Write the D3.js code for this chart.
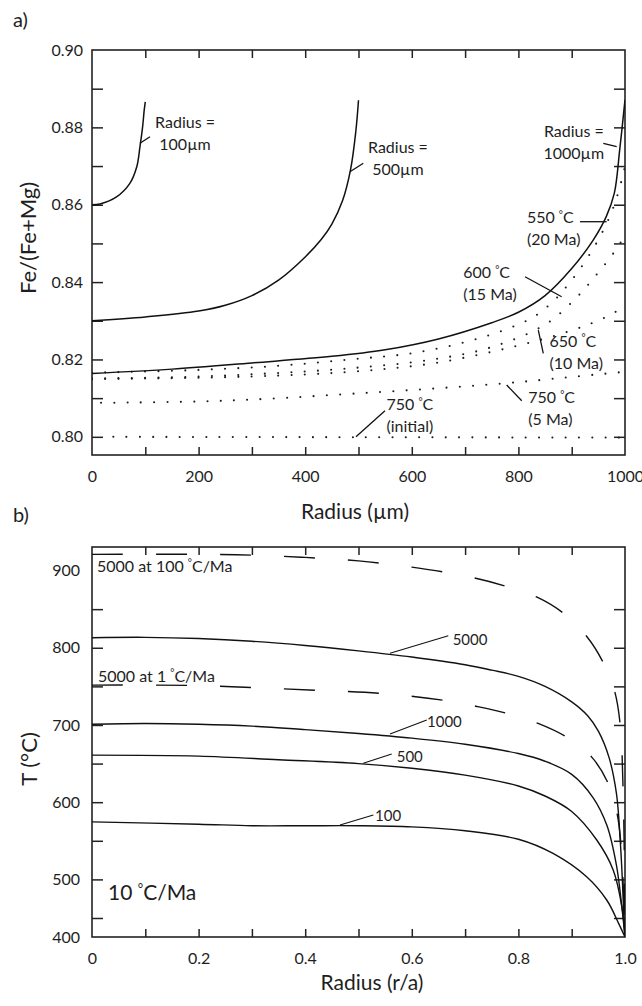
<!DOCTYPE html>
<html>
<head>
<meta charset="utf-8">
<script src="https://cdn.jsdelivr.net/npm/d3@7"></script>
<style>
  body { margin: 0; background: #fff; }
  svg { font-family: Lato, "Noto Sans", sans-serif; }
  text { fill: #1e1e1e; }
</style>
</head>
<body>
<script>
// ---------- panel a) Fe/(Fe+Mg) against radius (um) ----------
var r100 = [0, 15, 46, 71, 84, 90, 95, 98, 100];
var fe100 = [0.8600, 0.8602, 0.8620, 0.8655, 0.8698, 0.8750, 0.8802, 0.8845, 0.8866];

var r500 = [0, 100, 200, 250, 300, 350, 400, 430, 450, 470, 485, 495, 500];
var fe500 = [0.8300, 0.8310, 0.8325, 0.8340, 0.8365, 0.8405, 0.8465, 0.8510, 0.8550, 0.8610, 0.8690, 0.8790, 0.8870];

var r1000 = [0, 150, 300, 450, 550, 650, 750, 800, 850, 900, 940, 965, 980, 990, 1000];
var fe1000 = [0.8164, 0.8175, 0.8191, 0.8208, 0.8225, 0.8253, 0.8295, 0.8322, 0.8365, 0.8435, 0.8508, 0.8570, 0.8630, 0.8741, 0.8871];

// dotted profiles (550, 600, 650, 750 5 Ma, 750 initial)
var r550 = [0, 180, 343, 484, 609, 734, 822, 859, 884, 916, 944, 965, 980, 994, 1000];
var fe550 = [0.8166, 0.8172, 0.8183, 0.8200, 0.8218, 0.8258, 0.8305, 0.8342, 0.8378, 0.8435, 0.8495, 0.8550, 0.8600, 0.8665, 0.8700];
var r600 = [0, 180, 333, 483, 640, 750, 850, 909, 947, 978, 1000];
var fe600 = [0.8151, 0.8155, 0.8164, 0.8177, 0.8200, 0.8232, 0.8290, 0.8360, 0.8420, 0.8474, 0.8520];
var r650 = [0, 300, 484, 640, 797, 900, 965, 1000];
var fe650 = [0.8149, 0.8156, 0.8168, 0.8190, 0.8235, 0.8275, 0.8310, 0.8338];
var r750 = [17, 243, 496, 772, 900, 1000];
var fe750 = [0.8088, 0.8093, 0.8112, 0.8138, 0.8155, 0.8168];
var rInit = [40, 500, 1000];
var feInit = [0.8000, 0.7999, 0.7998];

var feTicks = [0.80, 0.81, 0.82, 0.83, 0.84, 0.85, 0.86, 0.87, 0.88, 0.89];
var feLabels = [0.80, 0.82, 0.84, 0.86, 0.88, 0.90];
var rTicks = [100, 200, 300, 400, 500, 600, 700, 800, 900];
var rLabels = [0, 200, 400, 600, 800, 1000];

// ---------- panel b) T against radius (r/a) ----------
var ra5000 = [0, 0.1, 0.2, 0.3, 0.4, 0.5, 0.6, 0.7, 0.75, 0.8, 0.85, 0.9, 0.93, 0.95, 0.97, 0.984, 0.991, 0.995, 0.998, 1.0];
var t5000 = [813, 813.5, 812, 808.5, 803, 796, 788, 778, 771, 763, 750, 730, 712, 692, 658, 611, 551, 500, 450, 400];
var ra1000 = [0, 0.1, 0.2, 0.3, 0.4, 0.5, 0.6, 0.7, 0.8, 0.85, 0.9, 0.94, 0.966, 0.984, 0.994, 1.0];
var t1000 = [701, 702, 701, 698.5, 694, 689, 683, 675, 663, 653, 636, 606, 570, 518, 465, 400];
var ra500 = [0, 0.2, 0.35, 0.5, 0.6, 0.7, 0.8, 0.85, 0.9, 0.947, 0.978, 0.994, 1.0];
var t500 = [661, 659.7, 655, 650, 644, 635, 621, 608, 588, 551, 512, 465, 400];
var ra100 = [0, 0.2, 0.3, 0.4, 0.5, 0.6, 0.7, 0.8, 0.865, 0.928, 0.966, 0.988, 1.0];
var t100 = [574.5, 571.5, 569.5, 569.5, 569.5, 568, 563, 552, 533.6, 503.4, 473, 436, 400];
// dashed: 5000 at 100 C/Ma and 5000 at 1 C/Ma
var raFast = [0, 0.2, 0.3, 0.4, 0.5, 0.6, 0.7, 0.775, 0.835, 0.884, 0.929, 0.959, 0.981, 0.991, 0.997, 1.0];
var tFast = [921, 921, 920, 917, 912.5, 904.4, 893, 880, 865.5, 845, 814, 781, 742.6, 700, 600, 400];
var raSlow = [0, 0.18, 0.3, 0.418, 0.54, 0.659, 0.722, 0.779, 0.837, 0.891, 0.938, 0.968, 0.985, 0.993, 1.0];
var tSlow = [751.6, 751.3, 748.5, 745, 741, 732, 724, 715, 702, 684, 658, 625, 586, 540, 400];

var tTicks = [450, 500, 550, 600, 650, 700, 750, 800, 850];
var tLabels = [400, 500, 600, 700, 800, 900];
var raTicks = [0.1, 0.2, 0.3, 0.4, 0.5, 0.6, 0.7, 0.8, 0.9];
var raLabels = [0, 0.2, 0.4, 0.6, 0.8, 1.0];

var zip = function(xs, ys) {
  return xs.map(function(v, i) { return [v, ys[i]]; });
};

var width = 642, height = 1006;
var svg = d3.select("body").append("svg")
    .attr("width", width)
    .attr("height", height);

var left = 92, right = 625;

var xa = d3.scaleLinear().domain([0, 1000]).range([left, right]);
var ya = d3.scaleLinear().domain([0.7953, 0.90]).range([455, 50]);
var xb = d3.scaleLinear().domain([0, 1]).range([left, right]);
// the printed axis squeezes the last 50 degrees at the bottom
var yb = d3.scaleLinear().domain([400, 450, 930.5]).range([937, 918, 547]);

var defs = svg.append("defs");
defs.append("clipPath").attr("id", "clipA").append("rect")
    .attr("x", left).attr("y", 50).attr("width", right - left).attr("height", 405);
defs.append("clipPath").attr("id", "clipB").append("rect")
    .attr("x", left).attr("y", 547).attr("width", right - left).attr("height", 390);

var degree = function(sel, str) {
  var parts = str.split("°");
  sel.append("tspan").text(parts[0]);
  sel.append("tspan").attr("font-size", "0.62em").attr("dy", "-0.55em").text("°");
  sel.append("tspan").attr("dy", "0.35em").text(parts[1]);
};

var drawPanel = function(x, y, opts) {
  var g = svg.append("g");
  var top = y.range()[y.range().length - 1], bottom = y.range()[0];

  // ticks inside the frame
  g.append("g").attr("transform", "translate(" + left + ",0)")
    .call(d3.axisLeft(y).tickValues(opts.yTicks).tickSize(-11).tickFormat(""));
  g.append("g").attr("transform", "translate(" + right + ",0)")
    .call(d3.axisRight(y).tickValues(opts.yTicks).tickSize(-11).tickFormat(""));
  g.append("g").attr("transform", "translate(0," + top + ")")
    .call(d3.axisTop(x).tickValues(opts.xTicks).tickSize(-8).tickFormat(""));
  g.append("g").attr("transform", "translate(0," + bottom + ")")
    .call(d3.axisBottom(x).tickValues(opts.xTicks).tickSize(-8).tickFormat(""));

  // labels
  g.append("g").attr("transform", "translate(" + left + ",0)")
    .call(d3.axisLeft(y).tickValues(opts.yLabels).tickSize(0).tickPadding(opts.yPad).tickFormat(opts.yFmt));
  g.append("g").attr("transform", "translate(0," + bottom + ")")
    .call(d3.axisBottom(x).tickValues(opts.xLabels).tickSize(0).tickPadding(opts.xPad).tickFormat(opts.xFmt));

  g.selectAll(".domain").remove();
  g.selectAll(".tick line").attr("stroke", "#222").attr("stroke-width", 1.5);
  g.selectAll(".tick text").attr("font-size", 16).attr("fill", "#1e1e1e")
    .attr("font-family", "Lato, 'Noto Sans', sans-serif");

  g.append("rect")
    .attr("x", left).attr("y", top)
    .attr("width", right - left)
    .attr("height", bottom - top)
    .attr("fill", "none").attr("stroke", "#222").attr("stroke-width", 1.6);
  return g;
};

drawPanel(xa, ya, {
  yTicks: feTicks, yLabels: feLabels, yPad: 9, yFmt: d3.format(".2f"),
  xTicks: rTicks, xLabels: rLabels, xPad: 16, xFmt: d3.format("d")
});
drawPanel(xb, yb, {
  yTicks: tTicks, yLabels: tLabels, yPad: 12, yFmt: d3.format("d"),
  xTicks: raTicks, xLabels: raLabels, xPad: 16,
  xFmt: function(d) { return d === 0 ? "0" : d3.format(".1f")(d); }
});

// ---- curves, panel a
var lineA = d3.line().x(function(d) { return xa(d[0]); }).y(function(d) { return ya(d[1]); })
    .curve(d3.curveCatmullRom.alpha(0.5));

var solidA = [zip(r100, fe100), zip(r500, fe500), zip(r1000, fe1000)];
var dottedA = [zip(r550, fe550), zip(r600, fe600), zip(r650, fe650), zip(r750, fe750), zip(rInit, feInit)];

var gA = svg.append("g").attr("clip-path", "url(#clipA)");
gA.append("g").selectAll("path").data(dottedA).enter().append("path")
    .attr("d", lineA)
    .attr("fill", "none").attr("stroke", "#1e1e1e")
    .attr("stroke-width", 2.1)
    .attr("stroke-linecap", "round")
    .attr("stroke-dasharray", "0,13.3");

gA.append("g").selectAll("path").data(solidA).enter().append("path")
    .attr("d", lineA)
    .attr("fill", "none").attr("stroke", "#111").attr("stroke-width", 1.5);

// ---- curves, panel b
var lineB = d3.line().x(function(d) { return xb(d[0]); }).y(function(d) { return yb(d[1]); })
    .curve(d3.curveCatmullRom.alpha(0.5));

var solidB = [zip(ra5000, t5000), zip(ra1000, t1000), zip(ra500, t500), zip(ra100, t100)];
var dashedB = [zip(raFast, tFast), zip(raSlow, tSlow)];

var gB = svg.append("g").attr("clip-path", "url(#clipB)");
gB.append("g").selectAll("path").data(solidB).enter().append("path")
    .attr("d", lineB)
    .attr("fill", "none").attr("stroke", "#111").attr("stroke-width", 1.4);

gB.append("g").selectAll("path").data(dashedB).enter().append("path")
    .attr("d", lineB)
    .attr("fill", "none").attr("stroke", "#111").attr("stroke-width", 1.4)
    .attr("stroke-dasharray", "31,33");

// ---- annotations
var leadersA = [
  [90, 0.87588, 108.8, 0.87759],
  [484, 0.86854, 509, 0.87071],
  [959.3, 0.87588, 984.4, 0.8750],
  [915.6, 0.85561, 965.5, 0.85561],
  [812.4, 0.84139, 881.2, 0.83622],
  [837.3, 0.82761, 846.7, 0.82159],
  [778, 0.81339, 806.2, 0.80933],
  [495.3, 0.80003, 549.7, 0.80675]
];
svg.append("g").selectAll("line").data(leadersA).enter().append("line")
    .attr("x1", function(d) { return xa(d[0]); }).attr("y1", function(d) { return ya(d[1]); })
    .attr("x2", function(d) { return xa(d[2]); }).attr("y2", function(d) { return ya(d[3]); })
    .attr("stroke", "#111").attr("stroke-width", 1.3);

var leadersB = [
  [0.5591, 792.8, 0.6685, 815.6],
  [0.5591, 688.3, 0.628, 706.4],
  [0.509, 650.4, 0.5623, 662.4],
  [0.4653, 570.4, 0.5278, 583.4]
];
svg.append("g").selectAll("line").data(leadersB).enter().append("line")
    .attr("x1", function(d) { return xb(d[0]); }).attr("y1", function(d) { return yb(d[1]); })
    .attr("x2", function(d) { return xb(d[2]); }).attr("y2", function(d) { return yb(d[3]); })
    .attr("stroke", "#111").attr("stroke-width", 1.1);

var notesA = [
  {x: 174.5, y: 0.8798, anchor: "middle", lines: ["Radius =", "100µm"]},
  {x: 574, y: 0.87345, anchor: "middle", lines: ["Radius =", "500µm"]},
  {x: 904, y: 0.87759, anchor: "middle", lines: ["Radius =", "1000µm"]},
  {x: 816, y: 0.8552, anchor: "start", lines: ["550 °C", "(20 Ma)"]},
  {x: 696.6, y: 0.84098, anchor: "start", lines: ["600 °C", "(15 Ma)"]},
  {x: 858.3, y: 0.82329, anchor: "start", lines: ["650 °C", "(10 Ma)"]},
  {x: 818.6, y: 0.80866, anchor: "start", lines: ["750 °C", "(5 Ma)"]},
  {x: 552.5, y: 0.80693, anchor: "start", lines: ["750 °C", "(initial)"]}
];
notesA.forEach(function(n) {
  n.lines.forEach(function(s, i) {
    var t = svg.append("text")
      .attr("x", xa(n.x)).attr("y", ya(n.y) + i * 22)
      .attr("text-anchor", n.anchor)
      .attr("font-size", 16);
    if (s.indexOf("°") >= 0) degree(t, s); else t.text(s);
  });
});

var notesB = [
  {x: 0.6767, y: 803.6, size: 15, s: "5000"},
  {x: 0.6285, y: 697.8, size: 15, s: "1000"},
  {x: 0.5717, y: 652.4, size: 15, s: "500"},
  {x: 0.531, y: 576.0, size: 15, s: "100"},
  {x: 0.0094, y: 898.5, size: 16, s: "5000 at 100 °C/Ma"},
  {x: 0.0113, y: 756, size: 16, s: "5000 at 1 °C/Ma"},
  {x: 0.030, y: 473.3, size: 21, s: "10 °C/Ma"}
];
notesB.forEach(function(n) {
  var t = svg.append("text")
    .attr("x", xb(n.x)).attr("y", yb(n.y))
    .attr("font-size", n.size);
  if (n.s.indexOf("°") >= 0) degree(t, n.s); else t.text(n.s);
});

// ---- titles
svg.append("text").attr("x", 13).attr("y", 27).attr("font-size", 20).text("a)");
svg.append("text").attr("x", 13).attr("y", 522).attr("font-size", 20).text("b)");

svg.append("text").attr("x", 355).attr("y", 519).attr("text-anchor", "middle")
    .attr("font-size", 21).text("Radius (µm)");
svg.append("text").attr("x", 372).attr("y", 990).attr("text-anchor", "middle")
    .attr("font-size", 21).text("Radius (r/a)");

svg.append("text").attr("transform", "translate(36,238) rotate(-90)")
    .attr("text-anchor", "middle").attr("font-size", 22).text("Fe/(Fe+Mg)");
svg.append("text").attr("transform", "translate(37,759) rotate(-90)")
    .attr("text-anchor", "middle").attr("font-size", 22).text("T (°C)");
</script>
</body>
</html>
